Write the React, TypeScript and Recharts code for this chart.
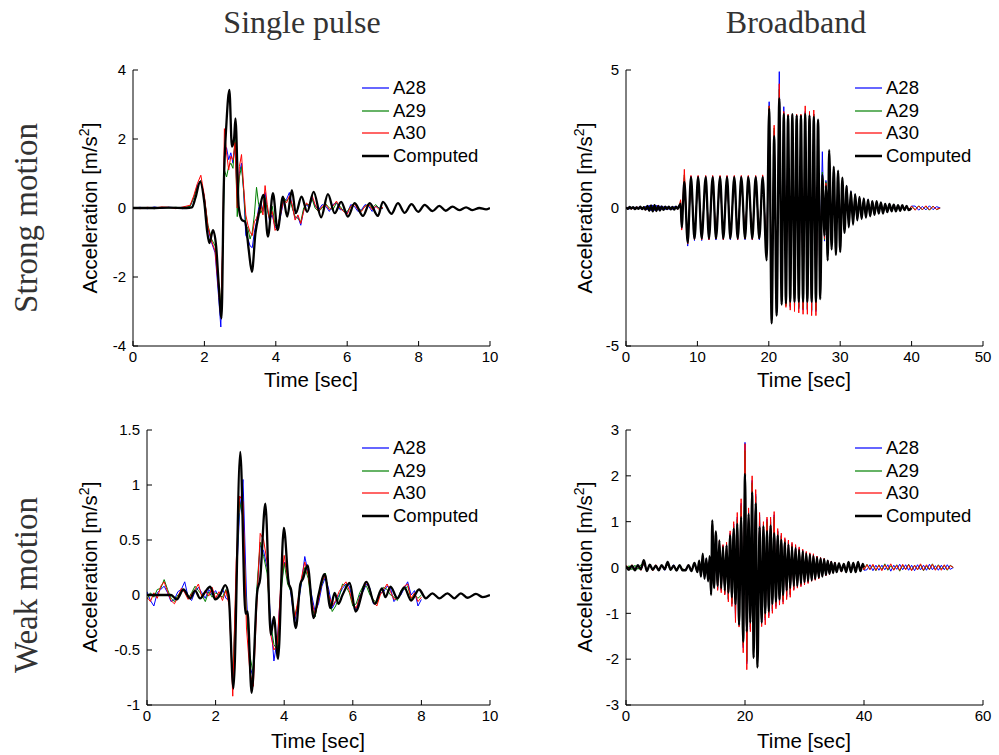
import React from 'react';
import { LineChart, Line, XAxis, YAxis } from 'recharts';

// ---------- Strong motion / Single pulse ----------
const spCompT = [
  0, 0.5, 1.0, 1.5, 1.65, 1.75, 1.88, 2.0, 2.08, 2.14,
  2.24, 2.33, 2.4, 2.48, 2.54, 2.62, 2.7, 2.77, 2.83, 2.87,
  2.96, 3.05, 3.14, 3.24, 3.33, 3.43, 3.52, 3.66, 3.78, 3.92,
  4.05, 4.2, 4.32, 4.45, 4.56, 4.72, 4.88, 5.06, 5.27, 5.46,
  5.65, 5.83, 6.02, 6.21, 6.44, 6.63, 6.86, 7.0, 7.24, 7.42,
  7.61, 7.8, 7.99, 8.17, 8.39, 8.58, 8.76, 8.95, 9.14, 9.33,
  9.51, 9.7, 9.89, 10,
];
const spComputed = [
  0, 0, 0.01, 0, 0.02, 0.3, 0.76, 0.14, -0.7, -1.02,
  -0.64, -1.12, -2.2, -3.2, 0.52, 2.5, 3.42, 1.78, 2.0, 2.6,
  0.04, -0.35, -0.4, -1.2, -1.85, -0.73, -0.2, 0.38, -0.83, 0.43,
  -0.64, 0.33, -0.25, 0.52, -0.15, 0.33, -0.11, 0.47, -0.27, 0.4,
  -0.15, 0.18, -0.25, 0.14, -0.23, 0.14, -0.23, 0.18, -0.17, 0.14,
  -0.14, 0.11, -0.11, 0.09, -0.09, 0.06, -0.08, 0.04, -0.06, 0.02,
  -0.06, 0, -0.04, 0,
];
const spMeasT = [
  0, 0.2, 0.4, 0.6, 0.8, 1.0, 1.2, 1.4, 1.6, 1.7,
  1.8, 1.9, 2.0, 2.1, 2.2, 2.3, 2.4, 2.46, 2.52, 2.56,
  2.62, 2.68, 2.74, 2.8, 2.86, 2.92, 2.98, 3.04, 3.1, 3.16,
  3.22, 3.28, 3.34, 3.4, 3.46, 3.52, 3.58, 3.64, 3.7, 3.76,
  3.82, 3.9, 3.98, 4.06, 4.14, 4.22, 4.3, 4.38, 4.46, 4.54,
  4.62, 4.7, 4.78, 4.86, 4.94, 5.02, 5.1, 5.2, 5.3, 5.4,
  5.5, 5.6, 5.7, 5.8, 5.9, 6.0, 6.1, 6.2, 6.3, 6.4,
  6.5, 6.6, 6.7, 6.8, 6.9, 7.0,
];
const spA28 = [
  0.0, 0.02, -0.02, 0.03, -0.01, 0.02, 0.01, -0.02, 0.05, 0.3,
  0.65, 0.8, 0.3, -0.6, -1.0, -1.3, -2.6, -3.45, -0.8, 1.5,
  1.75, 1.4, 1.6, 1.3, 1.8, 0.3, 1.0, 1.3, 0.5, -0.8,
  -0.9, -1.1, -1.15, -0.7, -0.4, 0.0, 0.2, -0.1, 0.45, 0.0,
  -0.35, -0.2, -0.55, -0.6, -0.2, 0.2, 0.25, 0.45, 0.05, -0.3,
  -0.25, -0.5, -0.05, 0.1, 0.0, 0.3, 0.05, -0.05, 0.1, 0.05,
  -0.1, 0.1, 0.15, -0.05, -0.05, -0.15, 0.1, 0.05, -0.1, -0.05,
  0.1, 0.05, -0.1, 0.05, 0.0, -0.02,
];
const spA29 = [
  -0.01, 0.01, 0.0, -0.02, 0.02, 0.0, 0.02, 0.0, 0.05, 0.3,
  0.6, 0.8, 0.3, -0.5, -0.9, -1.1, -2.2, -2.85, -1.0, 1.1,
  0.9, 1.2, 1.3, 1.15, 2.05, -0.25, 0.9, 1.2, 0.5, -0.5,
  -0.6, -0.9, -0.7, -0.2, 0.6, 0.1, -0.15, 0.0, 0.3, -0.05,
  -0.3, 0.05, -0.5, -0.55, -0.1, 0.3, 0.2, 0.3, 0.0, -0.25,
  -0.3, -0.4, 0.0, 0.1, 0.1, 0.25, 0.0, -0.1, 0.0, 0.12,
  0.0, -0.05, 0.15, 0.05, -0.1, -0.1, 0.05, 0.15, 0.0, -0.08,
  0.05, 0.12, 0.0, 0.1, -0.02, 0.0,
];
const spA30 = [
  0.01, -0.02, 0.02, 0.0, 0.03, 0.02, -0.02, 0.03, 0.08, 0.35,
  0.7, 0.95, 0.35, -0.55, -0.95, -1.25, -2.4, -3.15, -0.5, 2.3,
  1.6, 1.1, 1.5, 1.4, 1.9, 0.0, 1.2, 1.55, 0.6, -0.2,
  -0.5, -0.7, -0.8, -0.4, -0.3, -0.1, 0.1, -0.2, 0.65, 0.1,
  -0.3, -0.1, -0.65, -0.5, -0.15, 0.25, 0.15, 0.35, 0.1, -0.35,
  -0.2, -0.45, -0.1, 0.15, 0.05, 0.35, 0.1, -0.1, 0.05, 0.1,
  -0.05, 0.05, 0.2, 0.0, -0.1, -0.18, 0.05, 0.12, -0.05, -0.1,
  0.05, 0.1, -0.05, 0.05, -0.05, 0.02,
];

// ---------- Strong motion / Broadband ----------
const bsCompT = [
  0, 0.25, 0.5, 0.75, 1, 1.25, 1.5, 1.75, 2, 2.25,
  2.5, 2.75, 3, 3.25, 3.5, 3.75, 4, 4.25, 4.5, 4.75,
  5, 5.25, 5.5, 5.75, 6, 6.25, 6.5, 6.75, 7, 7.25,
  7.5, 7.65, 7.8, 8.17, 8.64, 9.1, 9.59, 10.1, 10.6, 11.16,
  11.62, 12.14, 12.6, 13.17, 13.63, 14.15, 14.61, 15.17, 15.64, 16.15,
  16.67, 17.13, 17.69, 18.16, 18.67, 19.14, 19.7, 20.05, 20.4, 20.75,
  21.1, 21.47, 21.8, 22.1, 22.4, 22.7, 23.0, 23.3, 23.6, 23.9,
  24.2, 24.5, 24.8, 25.1, 25.4, 25.7, 26.0, 26.3, 26.6, 26.9,
  27.2, 27.5, 27.8, 28.0, 28.25, 28.45, 28.8, 29.1, 29.4, 29.7,
  30.0, 30.3, 30.6, 30.9, 31.2, 31.5, 31.8, 32.1, 32.4, 32.7,
  33.0, 33.3, 33.6, 33.9, 34.2, 34.5, 34.8, 35.1, 35.4, 35.7,
  36.0, 36.3, 36.6, 36.9, 37.2, 37.5, 37.8, 38.1, 38.4, 38.7,
  39.0, 39.3, 39.6, 40.0,
];
const bsComputed = [
  0.02, -0.03, 0.04, -0.02, 0.03, -0.04, 0.02, -0.03, 0.05, -0.04,
  0.03, -0.06, 0.08, -0.1, 0.09, -0.12, 0.1, -0.11, 0.08, -0.09,
  0.06, -0.07, 0.05, -0.04, 0.05, -0.05, 0.04, -0.06, 0.05, -0.03,
  0.1, 0.15, -0.7, 0.95, -1.25, 1.12, -1.12, 1.12, -1.1, 1.12,
  -1.1, 1.12, -1.1, 1.12, -1.1, 1.12, -1.1, 1.12, -1.1, 1.12,
  -1.1, 1.12, -1.1, 1.12, -1.1, 1.12, -1.9, 3.6, -4.18, 2.6,
  -3.9, 3.97, -3.5, 3.4, -3.45, 3.35, -3.4, 3.4, -3.4, 3.35,
  -3.4, 3.35, -3.4, 3.4, -3.4, 3.35, -3.4, 3.3, -3.4, 3.2,
  -3.3, 1.2, -1.0, 0.8, -1.9, 2.1, -1.5, 1.5, -1.7, 1.35,
  -1.6, 1.1, -0.9, 0.8, -0.7, 0.6, -0.6, 0.5, -0.45, 0.4,
  -0.4, 0.35, -0.35, 0.3, -0.3, 0.25, -0.25, 0.25, -0.2, 0.2,
  -0.2, 0.15, -0.15, 0.15, -0.12, 0.12, -0.12, 0.1, -0.1, 0.1,
  -0.08, 0.08, -0.08, 0.0,
];
const bsExtT = [40.5, 41, 41.5, 42, 42.5, 43, 43.5, 44];
const bsMeasT = bsCompT.concat(bsExtT);
const bsA28 = [
  -0.02, 0.03, -0.04, 0.02, -0.03, 0.04, -0.02, 0.03, -0.04, 0.03,
  -0.04, 0.07, -0.07, 0.1, -0.1, 0.11, -0.09, 0.1, -0.08, 0.08,
  -0.06, 0.05, -0.06, 0.05, -0.05, 0.04, -0.05, 0.06, -0.04, 0.05,
  0.1, 0.2, -0.75, 1.1, -1.38, 1.15, -1.18, 1.15, -1.18, 1.16,
  -1.15, 1.15, -1.16, 1.15, -1.15, 1.16, -1.15, 1.15, -1.16, 1.15,
  -1.15, 1.15, -1.16, 1.15, -1.15, 1.15, -1.6, 3.85, -4.0, 2.8,
  -3.8, 4.94, -3.4, 3.67, -3.5, 3.35, -3.6, 3.35, -3.6, 3.35,
  -3.65, 3.35, -3.7, 3.5, -3.7, 3.4, -3.75, 3.4, -3.75, 2.2,
  -1.7, 2.04, -1.2, 1.0, -1.3, 1.4, -1.35, 1.2, -1.3, 1.1,
  -1.1, 0.95, -0.85, 0.8, -0.65, 0.6, -0.55, 0.5, -0.42, 0.4,
  -0.37, 0.34, -0.32, 0.3, -0.28, 0.25, -0.23, 0.22, -0.2, 0.19,
  -0.17, 0.15, -0.15, 0.13, -0.12, 0.12, -0.11, 0.1, -0.1, 0.09,
  -0.09, 0.08, -0.08, 0.07,
  0.07, -0.08, 0.06, -0.07, 0.08, -0.06, 0.05, 0.0,
];
const bsA29 = [
  0.03, -0.04, 0.02, -0.03, 0.04, -0.02, 0.03, -0.04, 0.02, -0.03,
  0.06, -0.06, 0.09, -0.08, 0.1, -0.11, 0.12, -0.09, 0.07, -0.08,
  0.04, -0.05, 0.06, -0.04, 0.05, -0.05, 0.04, -0.05, 0.05, -0.04,
  0.08, 0.25, -0.7, 1.2, -1.3, 1.12, -1.14, 1.13, -1.13, 1.14,
  -1.13, 1.13, -1.12, 1.14, -1.13, 1.13, -1.12, 1.14, -1.13, 1.13,
  -1.12, 1.14, -1.13, 1.13, -1.12, 1.14, -1.65, 3.7, -3.85, 2.9,
  -3.7, 4.3, -3.35, 3.45, -3.55, 3.35, -3.55, 3.35, -3.6, 3.35,
  -3.6, 3.35, -3.65, 3.45, -3.65, 3.4, -3.7, 3.4, -3.7, 2.5,
  -1.5, 1.3, -1.15, 0.95, -1.25, 1.35, -1.3, 1.15, -1.25, 1.05,
  -1.05, 0.92, -0.82, 0.78, -0.62, 0.58, -0.52, 0.48, -0.41, 0.39,
  -0.36, 0.33, -0.31, 0.29, -0.27, 0.25, -0.23, 0.21, -0.19, 0.18,
  -0.16, 0.15, -0.14, 0.12, -0.12, 0.11, -0.1, 0.1, -0.09, 0.08,
  -0.08, 0.07, -0.07, 0.06,
  -0.06, 0.08, -0.07, 0.06, -0.08, 0.07, -0.06, 0.0,
];
const bsA30 = [
  0.04, -0.02, 0.03, -0.05, 0.02, -0.03, 0.05, -0.02, 0.03, -0.05,
  0.05, -0.08, 0.06, -0.09, 0.11, -0.1, 0.08, -0.12, 0.1, -0.07,
  0.05, -0.06, 0.07, -0.05, 0.04, -0.06, 0.05, -0.04, 0.06, -0.05,
  0.12, 0.3, -0.8, 1.4, -1.3, 1.18, -1.15, 1.18, -1.15, 1.18,
  -1.15, 1.18, -1.12, 1.18, -1.15, 1.18, -1.12, 1.18, -1.15, 1.18,
  -1.12, 1.18, -1.15, 1.18, -1.12, 1.2, -1.7, 3.7, -3.9, 3.0,
  -3.6, 4.5, -3.3, 3.5, -3.6, 3.4, -3.7, 3.4, -3.75, 3.4,
  -3.8, 3.4, -3.85, 3.7, -3.85, 3.5, -3.9, 3.55, -3.9, 2.0,
  -1.3, 1.0, -1.1, 0.9, -1.2, 1.3, -1.3, 1.1, -1.2, 1.0,
  -1.0, 0.9, -0.8, 0.75, -0.6, 0.55, -0.5, 0.45, -0.4, 0.38,
  -0.35, 0.32, -0.3, 0.28, -0.26, 0.24, -0.22, 0.22, -0.18, 0.18,
  -0.16, 0.14, -0.14, 0.13, -0.11, 0.11, -0.1, 0.1, -0.09, 0.09,
  -0.08, 0.08, -0.07, 0.07,
  -0.08, 0.07, -0.06, 0.08, -0.07, 0.06, -0.05, 0.0,
];

// ---------- Weak motion / Single pulse ----------
const swCompT = [
  0, 0.5, 0.7, 0.87, 1.06, 1.26, 1.4, 1.55, 1.7, 1.84,
  1.99, 2.13, 2.28, 2.38, 2.52, 2.72, 2.87, 2.93, 3.05, 3.21,
  3.3, 3.45, 3.61, 3.7, 3.82, 3.99, 4.13, 4.2, 4.34, 4.47,
  4.55, 4.68, 4.86, 5.0, 5.18, 5.35, 5.47, 5.58, 5.7, 5.91,
  6.08, 6.4, 6.64, 6.85, 6.95, 7.1, 7.3, 7.5, 7.7, 7.93,
  8.13, 8.32, 8.52, 8.76, 8.96, 9.15, 9.35, 9.59, 9.79, 10,
];
const swComputed = [
  0, 0, 0.0, -0.04, 0.05, -0.03, 0.04, -0.03, 0.03, 0.075,
  -0.04, 0.0, 0.09, 0.0, -0.85, 1.3, -0.17, -0.15, -0.89, 0.02,
  0.15, 0.83, -0.36, -0.2, -0.58, 0.61, 0.11, 0.05, -0.3, 0.1,
  0.15, 0.27, -0.21, 0.0, 0.19, -0.12, 0.02, -0.08, 0.0, 0.11,
  -0.15, 0.12, -0.08, 0.06, -0.02, 0.075, -0.03, 0.07, -0.05, 0.05,
  -0.03, 0.015, -0.03, 0.015, -0.03, 0.015, -0.025, 0.01, -0.02, 0,
];
const swMeasT = [
  0, 0.1, 0.2, 0.3, 0.4, 0.5, 0.6, 0.7, 0.8, 0.9,
  1.0, 1.1, 1.2, 1.3, 1.4, 1.5, 1.6, 1.7, 1.8, 1.9,
  2.0, 2.1, 2.2, 2.3, 2.4, 2.5, 2.6, 2.7, 2.8, 2.9,
  3.0, 3.1, 3.2, 3.3, 3.4, 3.5, 3.6, 3.7, 3.8, 3.9,
  4.0, 4.1, 4.2, 4.3, 4.4, 4.5, 4.6, 4.7, 4.8, 4.9,
  5.0, 5.1, 5.2, 5.3, 5.4, 5.5, 5.6, 5.7, 5.8, 5.9,
  6.0, 6.1, 6.2, 6.3, 6.4, 6.5, 6.6, 6.7, 6.8, 6.9,
  7.0, 7.1, 7.2, 7.3, 7.4, 7.5, 7.6, 7.7, 7.8, 7.9,
  8.0,
];
const swA28 = [
  0.03, -0.05, -0.1, 0.02, 0.05, 0.08, 0.02, -0.06, -0.04, 0.03,
  0.05, 0.12, -0.02, -0.05, 0.03, 0.07, 0.02, -0.03, 0.05, 0.0,
  0.04, -0.02, 0.06, -0.03, -0.05, -0.85, 0.1, 0.75, 1.05, 0.0,
  -0.65, -0.75, 0.0, 0.45, 0.4, 0.25, -0.2, -0.6, -0.4, 0.05,
  0.3, 0.2, 0.0, -0.25, -0.1, 0.1, 0.35, 0.2, 0.0, -0.15,
  -0.08, 0.08, 0.16, 0.05, -0.12, -0.06, 0.0, 0.06, 0.1, 0.08,
  -0.05, -0.15, 0.0, 0.03, 0.1, 0.06, -0.08, -0.07, 0.02, 0.03,
  0.08, 0.06, -0.06, -0.02, 0.0, 0.06, 0.12, 0.0, 0.04, -0.1,
  -0.04,
];
const swA29 = [
  -0.04, 0.02, -0.02, 0.05, 0.06, 0.14, 0.05, -0.03, -0.06, 0.0,
  0.03, 0.05, -0.03, 0.02, 0.08, 0.04, 0.0, -0.06, 0.03, -0.02,
  0.02, 0.0, -0.02, 0.05, -0.08, -0.8, 0.15, 0.85, 0.7, -0.15,
  -0.55, -0.72, 0.05, 0.48, 0.35, 0.2, -0.25, -0.45, -0.5, 0.0,
  0.29, 0.1, 0.03, -0.2, -0.08, 0.12, 0.25, 0.15, -0.1, -0.2,
  -0.02, 0.1, 0.2, -0.02, -0.15, -0.1, -0.02, 0.1, 0.08, 0.02,
  -0.1, -0.08, 0.02, 0.08, 0.08, 0.0, -0.04, -0.08, 0.03, 0.07,
  0.05, 0.0, -0.02, -0.05, 0.04, 0.05, 0.08, -0.04, 0.0, -0.03,
  0.0,
];
const swA30 = [
  -0.02, -0.06, 0.02, -0.03, 0.08, 0.12, 0.03, -0.05, -0.08, -0.02,
  0.06, 0.02, -0.04, 0.01, 0.05, 0.1, -0.02, 0.04, -0.01, 0.07,
  -0.03, 0.03, -0.05, 0.04, -0.1, -0.92, 0.3, 0.9, 0.85, -0.3,
  -0.7, -0.83, -0.1, 0.56, 0.5, 0.3, -0.35, -0.5, -0.45, 0.1,
  0.36, 0.15, 0.05, -0.22, -0.05, 0.15, 0.3, 0.18, -0.05, -0.18,
  -0.05, 0.12, 0.18, 0.0, -0.1, -0.05, 0.03, 0.08, 0.12, 0.04,
  -0.08, -0.12, -0.02, 0.05, 0.12, 0.04, -0.06, -0.1, 0.0, 0.05,
  0.1, 0.03, -0.04, -0.03, 0.02, 0.08, 0.1, -0.03, 0.02, -0.06,
  -0.02,
];

// ---------- Weak motion / Broadband ----------
const bwCompT = [
  0, 0.5, 1, 1.5, 2, 2.5, 3, 3.5, 4, 4.5,
  5, 5.5, 6, 6.5, 7, 7.5, 8, 8.5, 9, 9.5,
  10, 10.5, 11, 11.5, 12, 12.3, 12.6, 12.9, 13.2, 13.5,
  13.8, 14.05, 14.3, 14.5, 14.8, 15.1, 15.4, 15.7, 16.0, 16.3,
  16.6, 16.9, 17.2, 17.5, 17.8, 18.1, 18.4, 18.7, 19.0, 19.35,
  19.7, 20.0, 20.3, 20.6, 20.9, 21.2, 21.45, 21.8, 22.1, 22.45,
  22.8, 23.1, 23.4, 23.7, 24.0, 24.3, 24.6, 24.9, 25.2, 25.5,
  25.8, 26.1, 26.4, 26.7, 27.0, 27.3, 27.6, 27.9, 28.2, 28.5,
  28.8, 29.1, 29.4, 29.7, 30.0, 30.3, 30.6, 30.9, 31.2, 31.5,
  31.8, 32.1, 32.4, 32.7, 33.0, 33.3, 33.6, 33.9, 34.2, 34.5,
  34.8, 35.1, 35.4, 35.8, 36.2, 36.6, 37.0, 37.4, 37.8, 38.2,
  38.6, 39.0, 39.4, 39.8, 40.0,
];
const bwComputed = [
  0.03, -0.05, 0.04, -0.06, 0.05, -0.04, 0.16, -0.08, 0.06, -0.05,
  0.04, -0.06, 0.05, -0.04, 0.12, -0.05, 0.04, -0.07, 0.05, -0.06,
  -0.06, 0.05, -0.08, 0.1, -0.1, 0.15, -0.2, 0.3, -0.25, 0.2,
  -0.3, 0.25, -0.6, 1.03, -0.45, 0.79, -0.4, 0.59, -0.45, 0.45,
  -0.5, 0.48, -0.55, 0.7, -0.65, 0.85, -0.8, 0.95, -1.25, 1.1,
  -1.62, 2.04, -1.4, 1.17, -1.2, 1.64, -1.97, 1.4, -2.18, 0.88,
  -1.2, 0.9, -1.0, 0.8, -0.96, 0.92, -0.8, 0.75, -0.75, 0.7,
  -0.7, 0.6, -0.6, 0.55, -0.5, 0.5, -0.45, 0.45, -0.4, 0.42,
  -0.4, 0.38, -0.35, 0.35, -0.32, 0.3, -0.3, 0.28, -0.28, 0.25,
  -0.25, 0.22, -0.22, 0.2, -0.2, 0.18, -0.16, 0.15, -0.14, 0.12,
  -0.12, 0.1, -0.1, 0.09, -0.08, 0.08, -0.1, 0.12, -0.1, 0.1,
  -0.1, 0.12, -0.08, 0.08, 0.0,
];
const bwExtT = [
  40.5, 41, 41.5, 42, 42.5, 43, 43.5, 44, 44.5, 45,
  45.5, 46, 46.5, 47, 47.5, 48, 48.5, 49, 49.5, 50,
  50.5, 51, 51.5, 52, 52.5, 53, 53.5, 54, 54.5, 55,
];
const bwMeasT = bwCompT.concat(bwExtT);
const bwA28 = [
  0.02, -0.05, 0.05, -0.03, 0.06, -0.05, 0.08, -0.06, 0.05, -0.04,
  0.05, -0.05, 0.04, -0.06, 0.07, -0.04, 0.06, -0.05, 0.03, -0.05,
  -0.04, 0.05, -0.06, 0.08, -0.09, 0.13, -0.16, 0.24, -0.22, 0.2,
  -0.28, 0.22, -0.38, 0.62, -0.42, 0.62, -0.48, 0.55, -0.5, 0.48,
  -0.58, 0.52, -0.7, 0.75, -0.8, 0.95, -1.1, 1.1, -1.25, 1.4,
  -1.75, 2.73, -2.1, 1.25, -1.35, 1.9, -1.55, 1.6, -1.8, 1.15,
  -1.2, 0.95, -1.15, 1.05, -1.05, 1.05, -0.95, 1.15, -0.85, 0.8,
  -0.8, 0.7, -0.75, 0.62, -0.65, 0.58, -0.6, 0.52, -0.48, 0.48,
  -0.42, 0.42, -0.4, 0.38, -0.36, 0.33, -0.33, 0.3, -0.28, 0.28,
  -0.26, 0.24, -0.23, 0.21, -0.19, 0.18, -0.17, 0.15, -0.14, 0.13,
  -0.11, 0.11, -0.1, 0.09, -0.09, 0.07, -0.08, 0.09, -0.08, 0.07,
  -0.07, 0.09, -0.06, 0.05, -0.06,
  -0.05, 0.06, -0.07, 0.05, -0.06, 0.05, -0.05, 0.06, -0.08, 0.05,
  -0.04, 0.07, -0.05, 0.06, -0.06, 0.05, -0.07, 0.06, -0.05, 0.05,
  -0.06, 0.07, -0.05, 0.04, -0.06, 0.05, -0.05, 0.06, -0.04, 0.0,
];
const bwA29 = [
  -0.03, 0.04, -0.05, 0.05, -0.04, 0.06, 0.07, -0.05, 0.04, -0.06,
  0.03, -0.06, 0.05, -0.03, 0.06, -0.06, 0.03, -0.04, 0.06, -0.03,
  -0.05, 0.04, -0.07, 0.07, -0.07, 0.11, -0.14, 0.22, -0.2, 0.17,
  -0.24, 0.2, -0.33, 0.58, -0.38, 0.6, -0.45, 0.55, -0.48, 0.46,
  -0.55, 0.5, -0.68, 0.72, -0.78, 0.9, -1.0, 1.05, -1.2, 1.35,
  -1.7, 2.55, -2.05, 1.2, -1.3, 1.85, -1.5, 1.55, -1.75, 1.1,
  -1.15, 0.9, -1.1, 1.0, -1.0, 1.0, -0.9, 1.1, -0.8, 0.78,
  -0.76, 0.68, -0.72, 0.6, -0.62, 0.56, -0.58, 0.5, -0.46, 0.46,
  -0.4, 0.4, -0.38, 0.36, -0.34, 0.32, -0.32, 0.29, -0.27, 0.27,
  -0.25, 0.23, -0.22, 0.2, -0.18, 0.17, -0.16, 0.14, -0.13, 0.12,
  -0.1, 0.1, -0.09, 0.1, -0.08, 0.08, -0.07, 0.08, -0.07, 0.06,
  -0.06, 0.08, -0.05, 0.06, -0.05,
  0.07, -0.04, 0.05, -0.07, 0.06, -0.05, 0.08, -0.06, 0.04, -0.05,
  0.06, -0.08, 0.05, -0.04, 0.07, -0.06, 0.05, -0.05, 0.06, -0.07,
  0.04, -0.05, 0.08, -0.05, 0.06, -0.04, 0.05, -0.06, 0.05, 0.0,
];
const bwA30 = [
  0.05, -0.03, 0.06, -0.04, 0.03, -0.06, 0.1, -0.05, 0.04, -0.07,
  0.06, -0.04, 0.03, -0.05, 0.08, -0.03, 0.05, -0.05, 0.04, -0.04,
  -0.05, 0.06, -0.05, 0.08, -0.08, 0.12, -0.15, 0.25, -0.2, 0.18,
  -0.25, 0.2, -0.35, 0.6, -0.4, 0.65, -0.5, 0.6, -0.55, 0.5,
  -0.6, 0.55, -0.75, 0.8, -0.85, 1.0, -1.2, 1.2, -1.3, 1.5,
  -1.86, 2.7, -2.23, 1.3, -1.4, 2.0, -1.6, 1.7, -1.9, 1.2,
  -1.29, 1.0, -1.25, 1.1, -1.1, 1.1, -1.0, 1.22, -0.9, 0.85,
  -0.82, 0.75, -0.8, 0.65, -0.7, 0.6, -0.65, 0.55, -0.5, 0.5,
  -0.45, 0.45, -0.42, 0.4, -0.38, 0.35, -0.35, 0.32, -0.3, 0.3,
  -0.28, 0.25, -0.25, 0.22, -0.2, 0.2, -0.18, 0.16, -0.15, 0.14,
  -0.12, 0.12, -0.1, 0.1, -0.1, 0.08, -0.08, 0.1, -0.09, 0.08,
  -0.08, 0.1, -0.07, 0.06, -0.05,
  0.06, -0.05, 0.07, -0.06, 0.05, -0.07, 0.06, -0.04, 0.08, -0.06,
  0.05, -0.06, 0.07, -0.05, 0.06, -0.07, 0.05, -0.05, 0.08, -0.06,
  0.06, -0.04, 0.07, -0.06, 0.05, -0.06, 0.06, -0.05, 0.04, 0.0,
];

// ---------- Labels ----------
const columnTitles = ['Single pulse', 'Broadband'];
const rowTitles = ['Strong motion', 'Weak motion'];
const seriesNames = ['A28', 'A29', 'A30', 'Computed'];
const xLabel = 'Time [sec]';

const spXTicks = [0, 2, 4, 6, 8, 10];
const spYTicks = [-4, -2, 0, 2, 4];
const bsXTicks = [0, 10, 20, 30, 40, 50];
const bsYTicks = [-5, 0, 5];
const swXTicks = [0, 2, 4, 6, 8, 10];
const swYTicks = [-1, -0.5, 0, 0.5, 1, 1.5];
const bwXTicks = [0, 20, 40, 60];
const bwYTicks = [-3, -2, -1, 0, 1, 2, 3];

const SANS = "'Liberation Sans', Arial, Helvetica, sans-serif";
const SERIF = "'Liberation Serif', 'Times New Roman', serif";
const COLORS = ['#0000ff', '#008000', '#ff0000', '#000000'];
const WIDTHS = [1, 1, 1, 2.3];

type Pt = { t: number; v: number };
const zip = (t: number[], v: number[]): Pt[] => {
  const n = Math.min(t.length, v.length);
  const out: Pt[] = [];
  for (let i = 0; i < n; i++) out.push({ t: t[i], v: v[i] });
  return out;
};

type PanelProps = {
  left: number;
  top: number;
  w: number;
  h: number;
  xDomain: [number, number];
  xTicks: number[];
  yDomain: [number, number];
  yTicks: number[];
  series: Pt[][];
};

function Panel(p: PanelProps) {
  const W = p.w + 70;
  const H = p.h + 60;
  const tickStyle = { fill: '#000', fontSize: 15, fontFamily: SANS };
  return (
    <div style={{ position: 'absolute', left: p.left - 60, top: p.top - 10, width: W, height: H }}>
      <LineChart width={W} height={H} margin={{ top: 10, right: 10, bottom: 0, left: 0 }}>
        <XAxis
          xAxisId="b"
          dataKey="t"
          type="number"
          domain={p.xDomain}
          ticks={p.xTicks}
          allowDataOverflow
          interval={0}
          height={50}
          tickSize={-5}
          tickMargin={10}
          stroke="#000"
          tick={tickStyle}
        />
        <XAxis
          xAxisId="t"
          orientation="top"
          dataKey="t"
          type="number"
          domain={p.xDomain}
          ticks={p.xTicks}
          allowDataOverflow
          interval={0}
          height={0}
          tickSize={-5}
          stroke="#000"
          tick={false}
        />
        <YAxis
          yAxisId="l"
          type="number"
          domain={p.yDomain}
          ticks={p.yTicks}
          allowDataOverflow
          interval={0}
          width={60}
          tickSize={-5}
          tickMargin={12}
          stroke="#000"
          tick={tickStyle}
        />
        <YAxis
          yAxisId="r"
          orientation="right"
          type="number"
          domain={p.yDomain}
          ticks={p.yTicks}
          allowDataOverflow
          interval={0}
          width={0}
          tickSize={-5}
          stroke="#000"
          tick={false}
        />
        {p.series.map((d, i) => (
          <Line
            key={seriesNames[i]}
            name={seriesNames[i]}
            xAxisId="b"
            yAxisId="l"
            data={d}
            dataKey="v"
            type={i === 3 ? 'monotone' : 'linear'}
            stroke={COLORS[i]}
            strokeWidth={WIDTHS[i]}
            dot={false}
            activeDot={false}
            isAnimationActive={false}
          />
        ))}
      </LineChart>
    </div>
  );
}

function LegendBox({ x, y }: { x: number; y: number }) {
  return (
    <div style={{ position: 'absolute', left: x, top: y }}>
      {seriesNames.map((name, i) => (
        <div
          key={name}
          style={{
            position: 'absolute',
            left: 0,
            top: i * 22.5,
            height: 22,
            width: 140,
            display: 'flex',
            alignItems: 'center',
            whiteSpace: 'nowrap',
          }}
        >
          <svg width={27} height={22} style={{ display: 'block' }}>
            <line x1={0} x2={27} y1={11} y2={11} stroke={COLORS[i]} strokeWidth={i === 3 ? 2.5 : 1.2} />
          </svg>
          <span style={{ marginLeft: 4, fontFamily: SANS, fontSize: 18.5, color: '#000', lineHeight: '22px' }}>
            {name}
          </span>
        </div>
      ))}
    </div>
  );
}

function YLabel({ cx, cy }: { cx: number; cy: number }) {
  return (
    <div
      style={{
        position: 'absolute',
        left: cx - 150,
        top: cy - 12,
        width: 300,
        height: 24,
        lineHeight: '24px',
        textAlign: 'center',
        transform: 'rotate(-90deg)',
        fontFamily: SANS,
        fontSize: 20.5,
        color: '#000',
        whiteSpace: 'nowrap',
      }}
    >
      Acceleration [m/s<sup style={{ fontSize: 14, lineHeight: 0 }}>2</sup>]
    </div>
  );
}

function XLabel({ cx, top }: { cx: number; top: number }) {
  return (
    <div
      style={{
        position: 'absolute',
        left: cx - 100,
        top,
        width: 200,
        height: 24,
        lineHeight: '24px',
        textAlign: 'center',
        fontFamily: SANS,
        fontSize: 20.5,
        color: '#000',
        whiteSpace: 'nowrap',
      }}
    >
      {xLabel}
    </div>
  );
}

function Title({ cx, top, text }: { cx: number; top: number; text: string }) {
  return (
    <div
      style={{
        position: 'absolute',
        left: cx - 150,
        top,
        width: 300,
        height: 32,
        lineHeight: '32px',
        textAlign: 'center',
        fontFamily: SERIF,
        fontSize: 32,
        color: '#333',
        whiteSpace: 'nowrap',
      }}
    >
      {text}
    </div>
  );
}

function RowTitle({ cx, cy, text }: { cx: number; cy: number; text: string }) {
  return (
    <div
      style={{
        position: 'absolute',
        left: cx - 150,
        top: cy - 20,
        width: 300,
        height: 40,
        lineHeight: '40px',
        textAlign: 'center',
        transform: 'rotate(-90deg)',
        fontFamily: SERIF,
        fontSize: 33,
        color: '#333',
        whiteSpace: 'nowrap',
      }}
    >
      {text}
    </div>
  );
}

export default function App() {
  const sp = [zip(spMeasT, spA28), zip(spMeasT, spA29), zip(spMeasT, spA30), zip(spCompT, spComputed)];
  const bs = [zip(bsMeasT, bsA28), zip(bsMeasT, bsA29), zip(bsMeasT, bsA30), zip(bsCompT, bsComputed)];
  const sw = [zip(swMeasT, swA28), zip(swMeasT, swA29), zip(swMeasT, swA30), zip(swCompT, swComputed)];
  const bw = [zip(bwMeasT, bwA28), zip(bwMeasT, bwA29), zip(bwMeasT, bwA30), zip(bwCompT, bwComputed)];

  return (
    <div style={{ position: 'absolute', left: 0, top: 0, width: 999, height: 755, background: '#fff', overflow: 'hidden' }}>
      <Panel left={133} top={70} w={357} h={276} xDomain={[0, 10]} xTicks={spXTicks} yDomain={[-4, 4]} yTicks={spYTicks} series={sp} />
      <Panel left={626} top={70} w={357} h={276} xDomain={[0, 50]} xTicks={bsXTicks} yDomain={[-5, 5]} yTicks={bsYTicks} series={bs} />
      <Panel left={147} top={430} w={343} h={275} xDomain={[0, 10]} xTicks={swXTicks} yDomain={[-1, 1.5]} yTicks={swYTicks} series={sw} />
      <Panel left={626} top={430} w={357} h={275} xDomain={[0, 60]} xTicks={bwXTicks} yDomain={[-3, 3]} yTicks={bwYTicks} series={bw} />

      <LegendBox x={362} y={77} />
      <LegendBox x={855} y={77} />
      <LegendBox x={362} y={437} />
      <LegendBox x={855} y={437} />

      <YLabel cx={90} cy={208} />
      <YLabel cx={585} cy={208} />
      <YLabel cx={90} cy={567} />
      <YLabel cx={585} cy={567} />

      <XLabel cx={311} top={368} />
      <XLabel cx={804} top={368} />
      <XLabel cx={318} top={729} />
      <XLabel cx={804} top={729} />

      <Title cx={302} top={6} text={columnTitles[0]} />
      <Title cx={796} top={6} text={columnTitles[1]} />
      <RowTitle cx={26} cy={218} text={rowTitles[0]} />
      <RowTitle cx={26} cy={585} text={rowTitles[1]} />
    </div>
  );
}
